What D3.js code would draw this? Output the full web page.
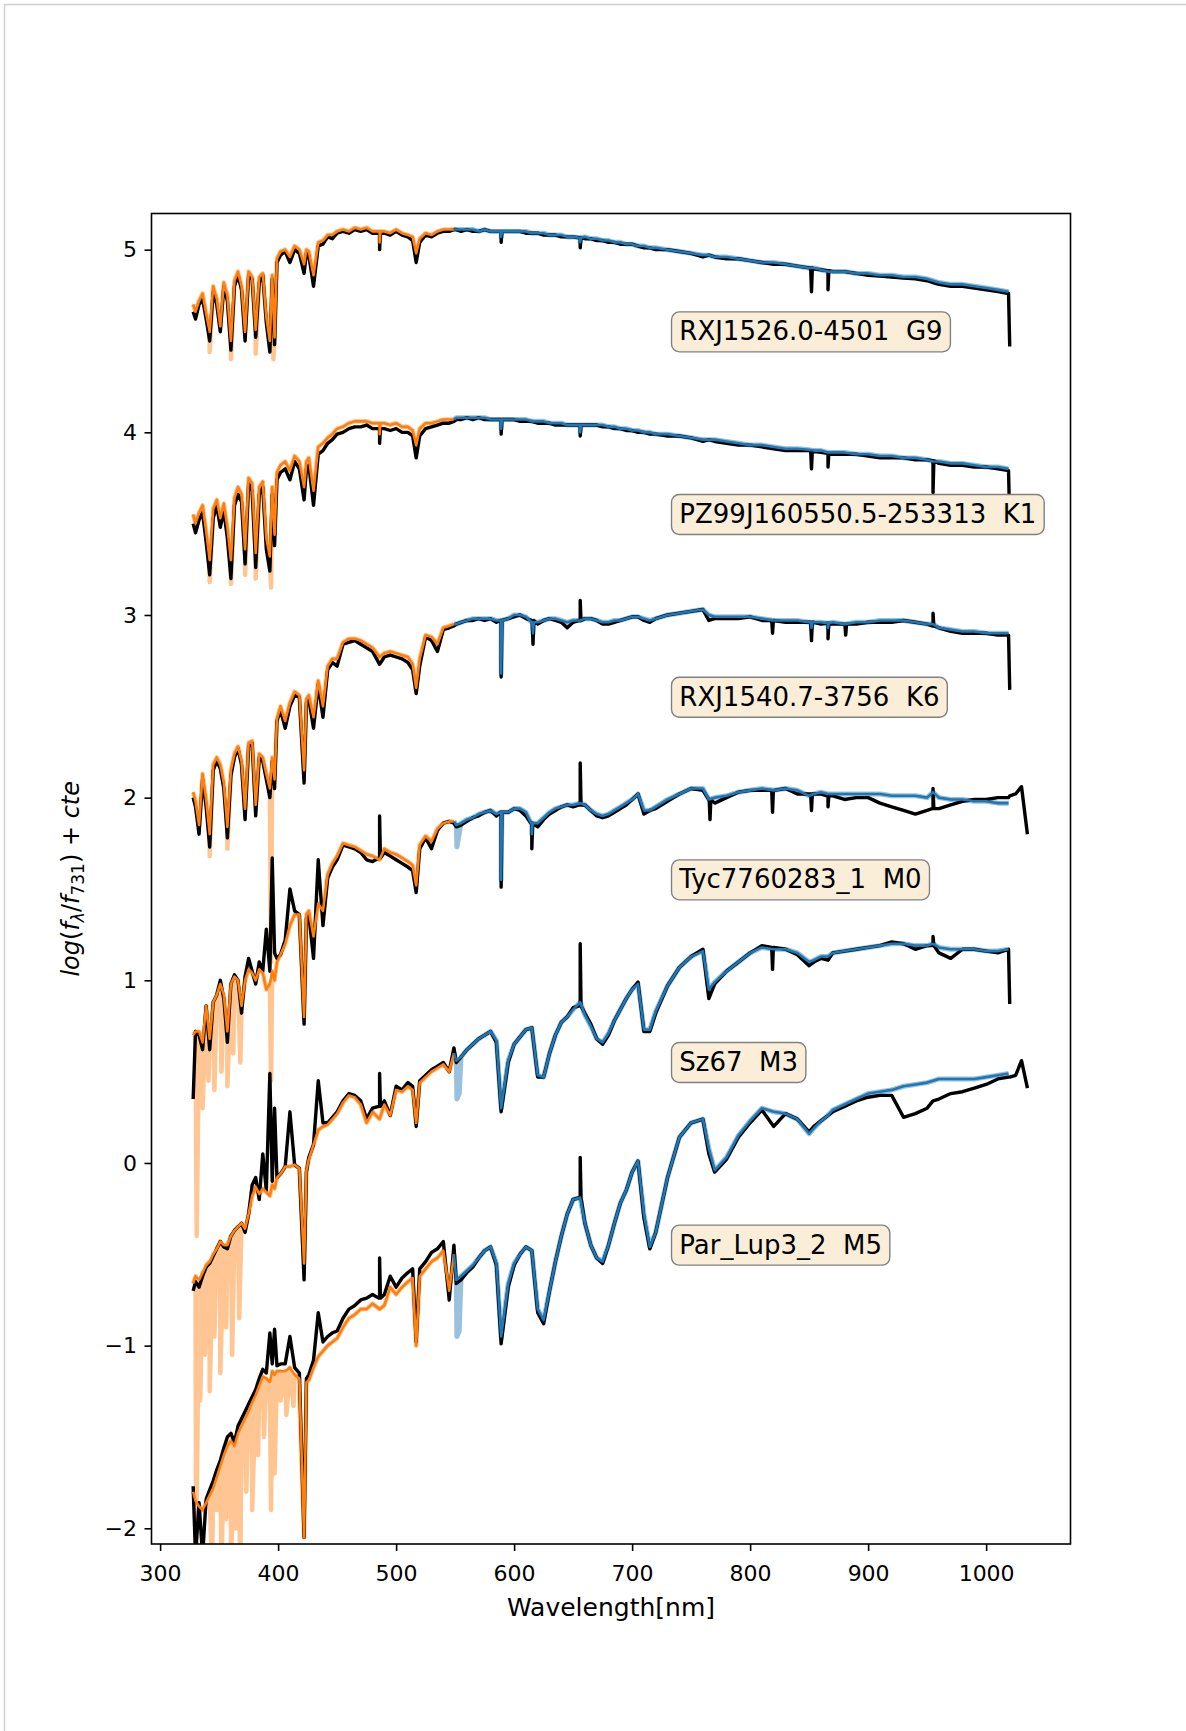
<!DOCTYPE html>
<html>
<head>
<meta charset="utf-8">
<script src="https://cdn.jsdelivr.net/npm/d3@7"></script>
<style>
  body { margin: 0; background: #fff; }
  svg { display: block; }
  text { font-family: "DejaVu Sans", sans-serif; }
</style>
</head>
<body>
<svg id="chart"></svg>
<script>
// wavelength grid (nm), shared by all spectra
var wave = [
  328, 330, 333, 336, 339, 342, 345, 348, 351, 354, 357, 360, 363, 366, 369, 372, 375, 378, 381, 384, 387, 390, 393, 395, 397, 399,
  402, 406, 410, 414, 418, 422, 424, 426, 430, 434, 438, 442, 446, 450, 455, 460, 465, 470, 475, 480, 486, 490, 495, 500, 505, 510, 514, 517, 520, 525, 530, 535, 540, 545, 549,
  551, 555, 560, 565, 570, 575, 580, 585, 589, 595, 600, 605, 610, 615, 620, 625, 630, 635, 640, 645,
  650, 656, 660, 665, 670, 675, 680, 685, 690, 695, 700, 705, 710, 715, 720, 730, 740, 750, 760, 765,
  770, 780, 790, 800, 810, 820, 830, 840, 850, 854, 860, 866, 870, 880, 890, 900, 910, 920, 930, 940,
  950, 955, 960, 970, 980, 990, 1000, 1010, 1019, 1020, 1025, 1030, 1035
];

// observed (obs) and model (mod) log flux + offset on the grid;
// *Lines = narrow lines [nm, value, local continuum]; lite* = extra points of the faint high-res model
var obsG9 = [
  4.66, 4.62, 4.70, 4.73, 4.62, 4.50, 4.77, 4.70, 4.55, 4.80, 4.72, 4.45, 4.80, 4.86, 4.78, 4.50, 4.86, 4.84, 4.52, 4.82, 4.86, 4.60, 4.44, 4.84, 4.48, 4.93,
  4.97, 4.99, 4.93, 5.00, 4.98, 4.87, 4.98, 4.97, 4.80, 5.02, 5.03, 5.07, 5.06, 5.09, 5.10, 5.09, 5.11, 5.10, 5.11, 5.09, 5.09, 5.09, 5.08, 5.10, 5.08, 5.07, 5.05, 4.93, 5.04, 5.08, 5.07, 5.09, 5.10, 5.10, 5.11,
  5.11, 5.10, 5.11, 5.10, 5.10, 5.11, 5.10, 5.10, 5.10, 5.10, 5.10, 5.10, 5.09, 5.09, 5.09, 5.08, 5.08, 5.08, 5.07, 5.07,
  5.07, 5.06, 5.06, 5.06, 5.05, 5.05, 5.04, 5.04, 5.03, 5.03, 5.03, 5.02, 5.01, 5.01, 5.00, 5.00, 4.99, 4.98, 4.96, 4.97,
  4.96, 4.95, 4.95, 4.94, 4.93, 4.92, 4.92, 4.91, 4.90, 4.895, 4.89, 4.885, 4.88, 4.88, 4.87, 4.86, 4.855, 4.85, 4.845, 4.84,
  4.83, 4.82, 4.81, 4.80, 4.80, 4.79, 4.78, 4.77, 4.76, 4.47, null, null, null
];
var modG9 = [
  4.70, 4.66, 4.72, 4.76, 4.65, 4.55, 4.80, 4.73, 4.58, 4.82, 4.75, 4.50, 4.83, 4.88, 4.80, 4.55, 4.88, 4.85, 4.56, 4.85, 4.87, 4.63, 4.50, 4.86, 4.52, 4.95,
  4.99, 5.00, 4.96, 5.02, 5.00, 4.92, 5.00, 4.99, 4.86, 5.04, 5.05, 5.08, 5.08, 5.10, 5.11, 5.10, 5.12, 5.11, 5.12, 5.10, 5.10, 5.10, 5.09, 5.11, 5.09, 5.08, 5.07, 4.98, 5.06, 5.09, 5.08, 5.10, 5.11, 5.11, 5.11,
  5.11, 5.11, 5.11, 5.11, 5.10, 5.11, 5.10, 5.10, 5.10, 5.10, 5.10, 5.10, 5.10, 5.09, 5.09, 5.09, 5.08, 5.08, 5.08, 5.07,
  5.07, 5.065, 5.07, 5.06, 5.06, 5.05, 5.05, 5.04, 5.04, 5.03, 5.03, 5.02, 5.02, 5.01, 5.01, 5.00, 4.99, 4.98, 4.97, 4.97,
  4.96, 4.96, 4.95, 4.94, 4.93, 4.93, 4.92, 4.91, 4.90, 4.90, 4.89, 4.88, 4.88, 4.88, 4.87, 4.87, 4.86, 4.86, 4.85, 4.85,
  4.84, 4.83, 4.82, 4.81, 4.81, 4.80, 4.79, 4.78, 4.77, null, null, null, null
];
var obsLinesG9 = [[486, 5.00, 5.09], [589, 5.04, 5.10], [656, 5.01, 5.065], [852, 4.77, 4.90], [866, 4.78, 4.885]];
var modLinesG9 = [[486, 5.04, 5.10], [589, 5.07, 5.10], [656, 5.04, 5.065]];
var liteG9 = [[342, 4.44], [360, 4.40], [381, 4.43], [396, 4.40]];

var obsK1 = [
  3.50, 3.45, 3.52, 3.56, 3.40, 3.22, 3.53, 3.60, 3.48, 3.57, 3.42, 3.20, 3.60, 3.66, 3.62, 3.28, 3.72, 3.68, 3.26, 3.66, 3.70, 3.36, 3.24, 3.66, 3.38, 3.74,
  3.78, 3.80, 3.74, 3.84, 3.80, 3.63, 3.80, 3.82, 3.60, 3.88, 3.90, 3.94, 3.96, 3.99, 4.00, 4.02, 4.03, 4.03, 4.04, 4.02, 4.02, 4.02, 4.01, 4.02, 4.00, 4.00, 3.98, 3.86, 3.98, 4.02, 4.03, 4.04, 4.05, 4.05, 4.06,
  4.07, 4.07, 4.08, 4.07, 4.08, 4.07, 4.07, 4.07, 4.07, 4.07, 4.07, 4.06, 4.06, 4.06, 4.05, 4.05, 4.05, 4.04, 4.04, 4.04,
  4.04, 4.04, 4.04, 4.04, 4.04, 4.03, 4.03, 4.02, 4.02, 4.01, 4.01, 4.00, 4.00, 3.99, 3.99, 3.98, 3.98, 3.97, 3.95, 3.96,
  3.95, 3.94, 3.93, 3.93, 3.92, 3.91, 3.90, 3.90, 3.90, 3.895, 3.89, 3.885, 3.88, 3.88, 3.88, 3.87, 3.86, 3.86, 3.86, 3.85,
  3.85, 3.845, 3.83, 3.82, 3.82, 3.81, 3.81, 3.80, 3.79, 3.50, null, null, null
];
var modK1 = [
  3.55, 3.50, 3.56, 3.60, 3.46, 3.30, 3.58, 3.63, 3.53, 3.61, 3.48, 3.30, 3.64, 3.70, 3.66, 3.36, 3.75, 3.72, 3.34, 3.70, 3.73, 3.42, 3.32, 3.70, 3.44, 3.78,
  3.82, 3.84, 3.79, 3.87, 3.84, 3.70, 3.84, 3.86, 3.68, 3.92, 3.94, 3.97, 3.99, 4.02, 4.03, 4.05, 4.06, 4.06, 4.06, 4.05, 4.05, 4.05, 4.04, 4.05, 4.03, 4.03, 4.01, 3.93, 4.02, 4.05, 4.05, 4.06, 4.07, 4.07, 4.07,
  4.08, 4.08, 4.08, 4.08, 4.08, 4.08, 4.07, 4.07, 4.07, 4.07, 4.07, 4.07, 4.07, 4.06, 4.06, 4.06, 4.05, 4.05, 4.05, 4.04,
  4.04, 4.04, 4.04, 4.04, 4.04, 4.04, 4.03, 4.03, 4.02, 4.02, 4.01, 4.01, 4.00, 4.00, 3.99, 3.99, 3.98, 3.97, 3.96, 3.96,
  3.96, 3.95, 3.94, 3.93, 3.93, 3.92, 3.91, 3.91, 3.905, 3.90, 3.90, 3.89, 3.89, 3.89, 3.88, 3.88, 3.87, 3.87, 3.86, 3.86,
  3.85, 3.84, 3.84, 3.83, 3.83, 3.82, 3.81, 3.81, 3.80, null, null, null, null
];
var obsLinesK1 = [[486, 3.94, 4.02], [589, 3.99, 4.07], [656, 3.98, 4.04], [852, 3.80, 3.90], [866, 3.81, 3.885], [955, 3.67, 3.845]];
var modLinesK1 = [[486, 3.99, 4.05], [589, 4.02, 4.07], [656, 4.00, 4.04]];
var liteK1 = [[342, 3.18], [360, 3.17], [372, 3.22], [381, 3.20], [394, 3.15]];

var obsK6 = [
  2.00, 1.95, 1.80, 2.10, 1.95, 1.73, 2.15, 2.20, 2.16, 2.05, 1.78, 2.12, 2.22, 2.27, 2.18, 1.88, 2.28, 2.30, 1.90, 2.22, 2.20, 2.10, 2.00, 2.20, 2.05, 2.42,
  2.48, 2.38, 2.50, 2.56, 2.55, 2.08, 2.52, 2.54, 2.38, 2.62, 2.44, 2.70, 2.74, 2.72, 2.84, 2.85, 2.86, 2.84, 2.82, 2.80, 2.73, 2.77, 2.78, 2.77, 2.76, 2.74, 2.70, 2.57, 2.72, 2.88, 2.86, 2.80, 2.92, 2.93, 2.94,
  2.95, 2.96, 2.97, 2.97, 2.98, 2.97, 2.98, 2.96, 2.97, 2.98, 2.99, 3.00, 2.98, 2.97, 2.95, 2.97, 2.98, 2.97, 2.96, 2.93,
  2.96, 2.97, 2.98, 2.98, 2.97, 2.95, 2.95, 2.96, 2.97, 2.98, 2.99, 2.99, 2.97, 2.96, 2.98, 3.00, 3.01, 3.02, 3.03, 2.97,
  2.98, 2.98, 2.98, 2.99, 2.97, 2.97, 2.96, 2.96, 2.96, 2.96, 2.95, 2.955, 2.95, 2.95, 2.95, 2.96, 2.96, 2.96, 2.97, 2.96,
  2.95, 2.94, 2.93, 2.91, 2.90, 2.90, 2.90, 2.89, 2.89, 2.59, null, null, null
];
var modK6 = [
  2.03, 1.98, 1.85, 2.13, 1.99, 1.80, 2.18, 2.22, 2.18, 2.08, 1.84, 2.15, 2.24, 2.28, 2.20, 1.94, 2.30, 2.31, 1.96, 2.24, 2.22, 2.13, 2.05, 2.22, 2.10, 2.43,
  2.50, 2.42, 2.52, 2.58, 2.56, 2.15, 2.54, 2.56, 2.44, 2.64, 2.50, 2.72, 2.76, 2.76, 2.85, 2.87, 2.87, 2.86, 2.84, 2.82, 2.77, 2.79, 2.80, 2.79, 2.78, 2.77, 2.73, 2.60, 2.76, 2.89, 2.88, 2.84, 2.93, 2.94, 2.95,
  2.95, 2.96, 2.97, 2.98, 2.98, 2.98, 2.98, 2.97, 2.97, 2.98, 3.00, 3.00, 2.99, 2.96, 2.96, 2.97, 2.98, 2.98, 2.97, 2.96,
  2.97, 2.97, 2.98, 2.98, 2.97, 2.96, 2.96, 2.97, 2.97, 2.98, 2.99, 2.99, 2.98, 2.97, 2.98, 3.00, 3.01, 3.02, 3.03, 3.00,
  2.99, 2.99, 2.99, 2.99, 2.98, 2.97, 2.97, 2.97, 2.96, 2.96, 2.96, 2.955, 2.96, 2.95, 2.96, 2.96, 2.97, 2.97, 2.97, 2.96,
  2.95, 2.95, 2.93, 2.92, 2.91, 2.91, 2.90, 2.90, 2.90, null, null, null, null
];
var obsLinesK6 = [[589, 2.66, 2.97], [616, 2.84, 2.97], [656, 3.08, 2.97], [819, 2.90, 2.97], [852, 2.86, 2.96], [866, 2.87, 2.955], [881, 2.89, 2.95], [955, 3.01, 2.94]];
var modLinesK6 = [[589, 2.68, 2.97], [616, 2.90, 2.96], [852, 2.93, 2.96], [866, 2.93, 2.955]];
var liteK6 = [[342, 1.68], [357, 1.72], [394, 1.10]];

var obsM0 = [
  0.35, 0.72, 0.70, 0.62, 0.86, 0.62, 0.88, 0.92, 1.00, 0.90, 0.66, 0.98, 1.03, 1.00, 0.82, 1.02, 1.12, 1.05, 0.98, 1.10, 1.05, 1.28, 1.05, 1.67, 1.15, 1.12,
  1.14, 1.22, 1.50, 1.38, 1.36, 0.76, 1.34, 1.36, 1.12, 1.66, 1.30, 1.56, 1.62, 1.66, 1.74, 1.73, 1.72, 1.70, 1.66, 1.65, 1.67, 1.70, 1.68, 1.66, 1.64, 1.62, 1.60, 1.48, 1.72, 1.78, 1.72, 1.82, 1.86, 1.87, 1.86,
  1.84, 1.85, 1.87, 1.89, 1.90, 1.92, 1.93, 1.90, 1.92, 1.92, 1.94, 1.93, 1.90, 1.86, 1.84, 1.88, 1.91, 1.93, 1.95, 1.96,
  1.95, 1.96, 1.96, 1.93, 1.90, 1.89, 1.90, 1.92, 1.94, 1.96, 1.99, 2.02, 1.91, 1.93, 1.94, 1.98, 2.02, 2.05, 2.04, 1.99,
  1.97, 2.00, 2.03, 2.04, 2.04, 2.04, 2.05, 2.02, 2.02, 2.02, 2.02, 2.01, 2.01, 1.99, 2.00, 2.00, 1.97, 1.95, 1.93, 1.91,
  1.93, 1.94, 1.94, 1.96, 1.98, 1.99, 1.99, 2.00, 2.00, 2.01, 2.02, 2.06, 1.80
];
var modM0 = [
  0.70, 0.72, 0.72, 0.66, 0.86, 0.68, 0.88, 0.92, 0.98, 0.92, 0.72, 0.98, 1.02, 1.00, 0.86, 1.00, 1.06, 1.04, 1.00, 1.06, 1.04, 0.95, 0.98, 1.05, 1.00, 1.10,
  1.14, 1.20, 1.30, 1.36, 1.36, 0.80, 1.36, 1.38, 1.24, 1.42, 1.38, 1.58, 1.64, 1.68, 1.75, 1.74, 1.73, 1.71, 1.69, 1.68, 1.66, 1.72, 1.70, 1.69, 1.67, 1.65, 1.63, 1.52, 1.74, 1.79, 1.76, 1.83, 1.86, 1.87, 1.87,
  1.85, 1.86, 1.88, 1.89, 1.91, 1.92, 1.93, 1.91, 1.92, 1.92, 1.94, 1.94, 1.92, 1.86, 1.86, 1.89, 1.92, 1.94, 1.95, 1.96,
  1.96, 1.97, 1.96, 1.93, 1.91, 1.90, 1.91, 1.93, 1.95, 1.97, 1.99, 2.02, 1.93, 1.93, 1.95, 1.99, 2.02, 2.05, 2.05, 1.99,
  2.00, 2.01, 2.03, 2.04, 2.05, 2.04, 2.05, 2.04, 2.01, 2.02, 2.03, 2.02, 2.02, 2.02, 2.02, 2.02, 2.02, 2.01, 2.01, 2.01,
  2.00, 2.03, 2.00, 1.99, 1.99, 1.98, 1.98, 1.97, 1.97, null, null, null, null
];
var obsLinesM0 = [[486, 1.90, 1.67], [589, 1.51, 1.92], [615, 1.72, 1.86], [656, 2.19, 1.96], [766, 1.88, 1.99], [819, 1.92, 2.04], [852, 1.93, 2.02], [866, 1.95, 2.01], [955, 2.05, 1.94]];
var modLinesM0 = [[589, 1.55, 1.92], [615, 1.80, 1.86]];
var liteM0 = [[331, -0.40], [336, 0.30], [341, 0.45], [346, 0.40], [352, 0.50], [357, 0.42], [362, 0.60], [368, 0.55], [394, 0.45], [551.5, 1.73]];

var obsM3 = [
  -0.70, -0.65, -0.68, -0.62, -0.57, -0.55, -0.51, -0.47, -0.43, -0.46, -0.47, -0.40, -0.37, -0.35, -0.33, -0.38, -0.28, -0.12, -0.08, -0.20, 0.05, -0.15, 0.49, -0.10, 0.30, -0.08,
  -0.06, -0.02, 0.28, -0.01, -0.03, -0.64, -0.05, 0.03, 0.10, 0.45, 0.22, 0.22, 0.25, 0.28, 0.34, 0.38, 0.37, 0.34, 0.24, 0.30, 0.31, 0.34, 0.26, 0.42, 0.40, 0.44, 0.42, 0.20, 0.45, 0.48, 0.51, 0.53, 0.55, 0.50, 0.63,
  0.55, 0.58, 0.62, 0.65, 0.68, 0.70, 0.72, 0.66, 0.28, 0.55, 0.65, 0.69, 0.73, 0.74, 0.47, 0.47, 0.60, 0.70, 0.77, 0.80,
  0.85, 0.86, 0.82, 0.76, 0.68, 0.65, 0.70, 0.78, 0.84, 0.90, 0.95, 0.99, 0.72, 0.72, 0.82, 0.97, 1.07, 1.13, 1.17, 0.90,
  0.98, 1.05, 1.10, 1.15, 1.19, 1.18, 1.17, 1.14, 1.08, 1.10, 1.12, 1.11, 1.15, 1.16, 1.17, 1.18, 1.19, 1.21, 1.20, 1.17,
  1.19, 1.19, 1.15, 1.12, 1.17, 1.17, 1.16, 1.15, 1.17, 0.87, null, null, null
];
var modM3 = [
  -0.66, -0.62, -0.64, -0.60, -0.56, -0.54, -0.50, -0.47, -0.43, -0.45, -0.45, -0.40, -0.37, -0.35, -0.33, -0.36, -0.28, -0.18, -0.13, -0.17, -0.14, -0.16, -0.18, -0.12, -0.14, -0.08,
  -0.06, -0.02, -0.02, -0.01, -0.03, -0.55, -0.04, 0.02, 0.10, 0.18, 0.20, 0.21, 0.24, 0.27, 0.33, 0.37, 0.36, 0.32, 0.22, 0.28, 0.24, 0.32, 0.26, 0.40, 0.39, 0.42, 0.40, 0.22, 0.44, 0.47, 0.50, 0.52, 0.54, 0.50, 0.60,
  0.56, 0.58, 0.62, 0.65, 0.68, 0.70, 0.72, 0.67, 0.30, 0.56, 0.65, 0.69, 0.73, 0.74, 0.48, 0.47, 0.60, 0.70, 0.77, 0.80,
  0.84, 0.88, 0.81, 0.75, 0.68, 0.66, 0.71, 0.78, 0.84, 0.90, 0.95, 0.98, 0.73, 0.73, 0.83, 0.97, 1.07, 1.13, 1.16, 0.95,
  0.99, 1.05, 1.10, 1.15, 1.18, 1.17, 1.17, 1.15, 1.10, 1.11, 1.13, 1.13, 1.15, 1.16, 1.17, 1.18, 1.19, 1.20, 1.20, 1.19,
  1.19, 1.20, 1.18, 1.17, 1.17, 1.17, 1.16, 1.16, 1.17, null, null, null, null
];
var obsLinesM3 = [[486, 0.49, 0.31], [656, 1.20, 0.86], [819, 1.06, 1.18], [955, 1.24, 1.19]];
var modLinesM3 = [];
var liteM3 = [[330.5, -2.2], [334, -1.30], [338, -1.05], [342, -1.25], [346, -0.95], [351, -1.15], [356, -0.90], [361, -1.05], [367, -0.85], [551.5, 0.35], [553.5, 0.38]];

var obsM5 = [
  -1.77, -2.15, -1.86, -2.15, -1.84, -1.79, -1.74, -1.68, -1.63, -1.56, -1.50, -1.48, -1.53, -1.44, -1.40, -1.36, -1.32, -1.28, -1.24, -1.18, -1.13, -1.15, -0.93, -1.10, -0.91, -1.11,
  -1.10, -1.10, -0.95, -1.12, -1.15, -2.05, -1.18, -1.16, -1.08, -0.82, -0.98, -0.95, -0.93, -0.92, -0.85, -0.80, -0.78, -0.75, -0.74, -0.72, -0.74, -0.72, -0.62, -0.68, -0.63, -0.60, -0.58, -0.98, -0.58, -0.54, -0.49, -0.47, -0.43, -0.75, -0.45,
  -0.66, -0.64, -0.60, -0.57, -0.52, -0.48, -0.46, -0.56, -0.99, -0.68, -0.56, -0.50, -0.46, -0.48, -0.82, -0.88, -0.70, -0.54, -0.40, -0.28,
  -0.20, -0.19, -0.33, -0.45, -0.52, -0.55, -0.45, -0.33, -0.22, -0.15, -0.05, 0.01, -0.30, -0.47, -0.38, -0.08, 0.14, 0.22, 0.24, 0.05,
  -0.05, 0.02, 0.14, 0.22, 0.29, 0.20, 0.27, 0.24, 0.17, 0.20, 0.23, 0.26, 0.28, 0.31, 0.34, 0.36, 0.37, 0.37, 0.25, 0.27,
  0.30, 0.34, 0.35, 0.38, 0.39, 0.41, 0.43, 0.46, 0.47, 0.47, 0.48, 0.56, 0.41
];
var modM5 = [
  -1.80, -1.85, -1.88, -1.90, -1.86, -1.82, -1.78, -1.72, -1.66, -1.60, -1.55, -1.52, -1.55, -1.48, -1.44, -1.40, -1.36, -1.31, -1.27, -1.22, -1.17, -1.18, -1.20, -1.14, -1.16, -1.14,
  -1.14, -1.14, -1.12, -1.16, -1.18, -2.05, -1.20, -1.19, -1.12, -1.06, -1.03, -1.00, -0.98, -0.96, -0.90, -0.85, -0.83, -0.80, -0.80, -0.77, -0.80, -0.78, -0.68, -0.72, -0.68, -0.65, -0.63, -1.00, -0.62, -0.58, -0.54, -0.52, -0.48, -0.70, -0.50,
  -0.64, -0.62, -0.59, -0.56, -0.52, -0.48, -0.46, -0.55, -0.95, -0.66, -0.55, -0.50, -0.46, -0.48, -0.80, -0.86, -0.70, -0.54, -0.40, -0.28,
  -0.20, -0.19, -0.33, -0.45, -0.52, -0.54, -0.45, -0.33, -0.22, -0.15, -0.05, 0.01, -0.28, -0.46, -0.38, -0.08, 0.14, 0.22, 0.24, 0.08,
  -0.04, 0.03, 0.15, 0.23, 0.30, 0.28, 0.27, 0.24, 0.16, 0.19, 0.23, 0.26, 0.29, 0.32, 0.35, 0.38, 0.39, 0.40, 0.42, 0.43,
  0.44, 0.45, 0.46, 0.46, 0.46, 0.46, 0.47, 0.48, 0.49, null, null, null, null
];
var obsLinesM5 = [[486, -0.52, -0.74], [656, 0.03, -0.19]];
var modLinesM5 = [];
var liteM5 = [[344, -2.2], [348, -1.9], [352, -2.2], [356, -1.95], [360, -2.2], [364, -2.0], [368, -2.2], [373, -1.8], [378, -1.9], [383, -1.6], [388, -1.5], [394, -1.9], [397, -1.7], [402, -1.30], [407, -1.38], [413, -1.33], [418, -1.28], [551.5, -0.95], [553.5, -0.92]];

var starLabels = ["RXJ1526.0-4501  G9", "PZ99J160550.5-253313  K1", "RXJ1540.7-3756  K6",
                  "Tyc7760283_1  M0", "Sz67  M3", "Par_Lup3_2  M5"];
var labelX = 740;
var labelY = [4.55, 3.55, 2.55, 1.55, 0.55, -0.45];
var xTicks = [300, 400, 500, 600, 700, 800, 900, 1000];
var yTicks = [-2, -1, 0, 1, 2, 3, 4, 5];

var stars = [
  {obs: obsG9, mod: modG9, obsLines: obsLinesG9, modLines: modLinesG9, lite: liteG9},
  {obs: obsK1, mod: modK1, obsLines: obsLinesK1, modLines: modLinesK1, lite: liteK1},
  {obs: obsK6, mod: modK6, obsLines: obsLinesK6, modLines: modLinesK6, lite: liteK6},
  {obs: obsM0, mod: modM0, obsLines: obsLinesM0, modLines: modLinesM0, lite: liteM0},
  {obs: obsM3, mod: modM3, obsLines: obsLinesM3, modLines: modLinesM3, lite: liteM3},
  {obs: obsM5, mod: modM5, obsLines: obsLinesM5, modLines: modLinesM5, lite: liteM5}
];

var WIDTH = 1186, HEIGHT = 1731;
var plotL = 151.5, plotR = 1070.5, plotT = 213.5, plotB = 1544;
var ORANGE = "#ff7f0e", BLUE = "#1f77b4";
var ARM_SPLIT = 549;
var LINE_HW = 0.7; // half width of a narrow line, nm

var svg = d3.select("#chart").attr("width", WIDTH).attr("height", HEIGHT);

// figure border
svg.append("rect")
  .attr("x", 4.5).attr("y", 4.5).attr("width", 1300).attr("height", 1800)
  .attr("fill", "none").attr("stroke", "#d0d0d0").attr("stroke-width", 1.5);

var x = d3.scaleLinear().domain([292.7, 1071.5]).range([plotL, plotR]);
var y = d3.scaleLinear().domain([-2.086, 5.198]).range([plotB, plotT]);

svg.append("defs").append("clipPath").attr("id", "plot-clip")
  .append("rect").attr("x", plotL).attr("y", plotT)
  .attr("width", plotR - plotL).attr("height", plotB - plotT);

var line = d3.line()
  .x(function (d) { return x(d[0]); })
  .y(function (d) { return y(d[1]); });

// grid values + narrow lines + extra points, sorted by wavelength
function series(vals, lines, extra) {
  var pts = wave.map(function (w, i) { return [w, vals[i]]; })
    .filter(function (d) { return d[1] != null; });
  lines.forEach(function (l) {
    pts.push([l[0] - LINE_HW, l[2]], [l[0], l[1]], [l[0] + LINE_HW, l[2]]);
  });
  return pts.concat(extra || []).sort(function (a, b) { return a[0] - b[0]; });
}
function uvb(pts) { return pts.filter(function (d) { return d[0] <= ARM_SPLIT; }); }
function vis(pts) { return pts.filter(function (d) { return d[0] >= ARM_SPLIT; }); }

var plot = svg.append("g").attr("clip-path", "url(#plot-clip)");
var liteG = plot.append("g").attr("opacity", 0.45);
var obsG = plot.append("g");
var modG = plot.append("g");

function draw(g, pts, color, width) {
  g.append("path").datum(pts).attr("d", line)
    .attr("fill", "none").attr("stroke", color).attr("stroke-width", width)
    .attr("stroke-linejoin", "round");
}

stars.forEach(function (s) {
  var modPts = series(s.mod, s.modLines);
  var litePts = series(s.mod, s.modLines, s.lite);
  var obsPts = series(s.obs, s.obsLines);

  draw(liteG, uvb(litePts), ORANGE, 4.5);
  draw(liteG, vis(litePts), BLUE, 5);
  draw(obsG, obsPts, "#000", 3.4);
  draw(modG, uvb(modPts), ORANGE, 2.6);
  draw(modG, vis(modPts), BLUE, 2.6);
});

// axes
var gx = svg.append("g").attr("transform", "translate(0," + plotB + ")")
  .call(d3.axisBottom(x).tickValues(xTicks).tickFormat(d3.format("d"))
    .tickSize(7).tickPadding(14).tickSizeOuter(0));
var gy = svg.append("g").attr("transform", "translate(" + plotL + ",0)")
  .call(d3.axisLeft(y).tickValues(yTicks).tickSize(7).tickPadding(7.5).tickSizeOuter(0));
[gx, gy].forEach(function (g) {
  g.select(".domain").remove();
  g.attr("font-family", "DejaVu Sans").attr("font-size", 22);
  g.selectAll("line").attr("stroke", "#000").attr("stroke-width", 1.6);
  g.selectAll("text").attr("fill", "#000");
});

svg.append("rect")
  .attr("x", plotL).attr("y", plotT).attr("width", plotR - plotL).attr("height", plotB - plotT)
  .attr("fill", "none").attr("stroke", "#000").attr("stroke-width", 1.6);

// axis titles
svg.append("text")
  .attr("x", (plotL + plotR) / 2).attr("y", 1616)
  .attr("text-anchor", "middle").attr("font-size", 25)
  .text("Wavelength[nm]");

var ylab = svg.append("text")
  .attr("transform", "translate(79," + ((plotT + plotB) / 2) + ") rotate(-90)")
  .attr("text-anchor", "middle").attr("font-size", 24);
ylab.append("tspan").attr("font-style", "italic").text("log");
ylab.append("tspan").text("(");
ylab.append("tspan").attr("font-style", "italic").text("f");
ylab.append("tspan").attr("font-style", "italic").attr("font-size", 17).attr("dy", 5).text("λ");
ylab.append("tspan").attr("dy", -5).text("/");
ylab.append("tspan").attr("font-style", "italic").text("f");
ylab.append("tspan").attr("font-size", 17).attr("dy", 5).text("731");
ylab.append("tspan").attr("dy", -5).text(") + ");
ylab.append("tspan").attr("font-style", "italic").text("cte");

// star labels in rounded boxes
var PAD = 7.8;
starLabels.forEach(function (name, i) {
  var cy = y(labelY[i]);
  var g = svg.append("g");
  var box = g.append("rect");
  var t = g.append("text")
    .attr("x", x(labelX)).attr("y", cy + 8.4)
    .attr("font-size", 26).attr("fill", "#000")
    .style("white-space", "pre")
    .text(name);
  var w = t.node().getComputedTextLength();
  box.attr("x", x(labelX) - PAD).attr("y", cy - 20)
    .attr("width", w + 2 * PAD).attr("height", 40)
    .attr("rx", PAD).attr("ry", PAD)
    .attr("fill", "#faeed9").attr("stroke", "#808080").attr("stroke-width", 1.4);
});
</script>
</body>
</html>
